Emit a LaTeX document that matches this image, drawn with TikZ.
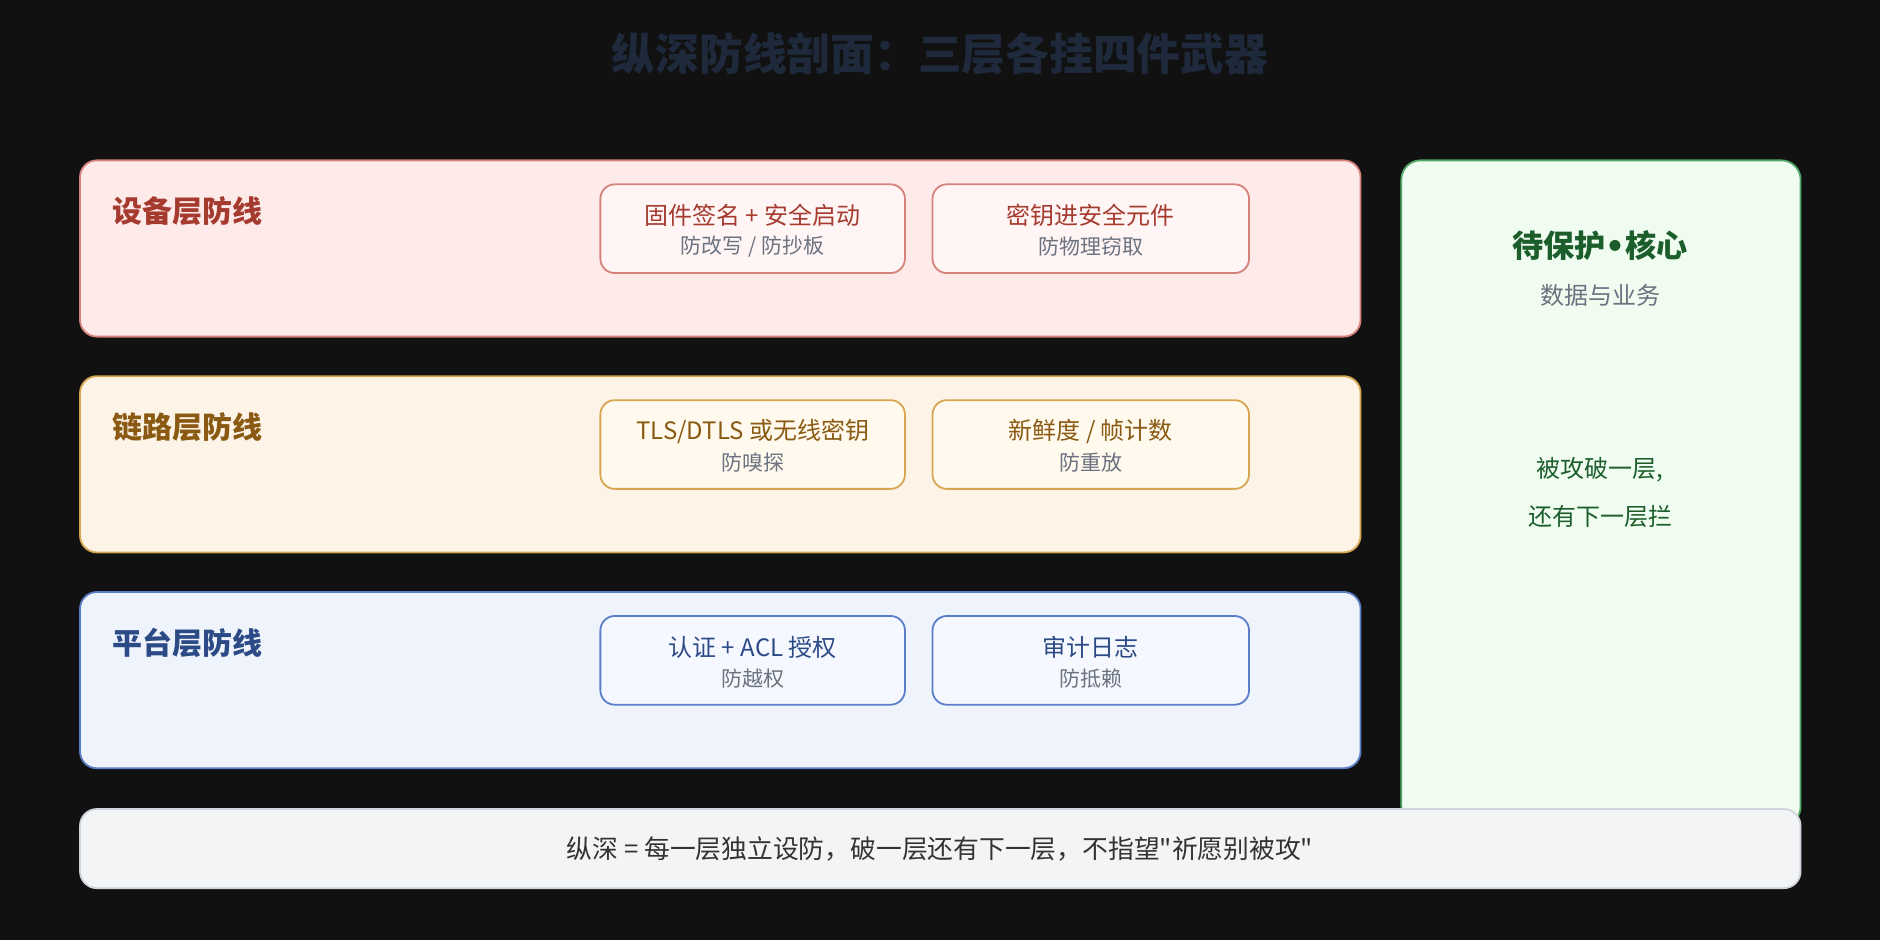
\documentclass[tikz,border=0pt]{standalone}
\usepackage{fontspec}
\setmainfont{Noto Sans CJK SC}
\newfontfamily\cjkplain{Noto Sans CJK SC}
\newfontfamily\bulletfont{DejaVu Sans}
\definecolor{bg}{HTML}{111111}
\definecolor{titlec}{HTML}{1E293B}
\definecolor{subgray}{HTML}{6B7280}
\definecolor{devfill}{HTML}{FFEAEA}
\definecolor{devline}{HTML}{D4827A}
\definecolor{devtext}{HTML}{A53A2F}
\definecolor{devwfill}{HTML}{FFF5F5}
\definecolor{linkfill}{HTML}{FDF3E7}
\definecolor{linkline}{HTML}{D6A650}
\definecolor{linktext}{HTML}{8A5A12}
\definecolor{linkwfill}{HTML}{FFF9EE}
\definecolor{platfill}{HTML}{EFF4FC}
\definecolor{platline}{HTML}{5A7EC8}
\definecolor{plattext}{HTML}{2B4A86}
\definecolor{platwfill}{HTML}{F5F8FF}
\definecolor{corefill}{HTML}{F0FCEF}
\definecolor{coreline}{HTML}{4FA866}
\definecolor{coretext}{HTML}{1B5E2C}
\definecolor{botfill}{HTML}{F3F4F6}
\definecolor{botline}{HTML}{CFD4DC}
\definecolor{bottext}{HTML}{333333}
\begin{document}
\begin{tikzpicture}[x=1pt,y=-1pt,
  layerbox/.style={draw=#1line, fill=#1fill, line width=1.5pt, rounded corners=14pt, anchor=north west, minimum width=1068pt, minimum height=147pt, inner sep=0pt},
  weapbox/.style={draw=#1line, fill=#1wfill, line width=1.5pt, rounded corners=12pt, anchor=north west, minimum height=74pt, inner sep=0pt},
  layertitle/.style={font=\fontsize{25}{29}\selectfont\bfseries, text=#1text, anchor=west, inner sep=0pt},
  wmain/.style={font=\fontsize{20}{24}\selectfont, text=#1text, inner sep=0pt},
  wsub/.style={font=\fontsize{17.5}{21}\selectfont, text=subgray, inner sep=0pt},
  txt/.style={inner sep=0pt}
]
\fill[bg] (0,0) rectangle (1568,784);
\useasboundingbox (0,0) rectangle (1568,784);

\node[txt, font=\fontsize{36.5}{40}\selectfont\bfseries, text=titlec] (title) at (784,45) {纵深防线剖面：三层各挂四件武器};

% core box (behind bottom bar)
\node[draw=coreline, fill=corefill, line width=1.5pt, rounded corners=16pt, anchor=north west, minimum width=333pt, minimum height=555pt, inner sep=0pt] (core) at (1168,133) {};
\node[txt, font=\fontsize{26}{30}\selectfont\bfseries, text=coretext] (coret) at (1334.5,205) {待保护{\bulletfont\bfseries •}核心};
\node[txt, font=\fontsize{20}{24}\selectfont, text=subgray] (cores) at (1334.5,246) {数据与业务};
\node[txt, font=\fontsize{20}{24}\selectfont, text=coretext] (corel1) at (1334.5,392) {被攻破一层,};
\node[txt, font=\fontsize{20}{24}\selectfont, text=coretext] (corel2) at (1334.5,431) {还有下一层拦};

% device layer
\node[layerbox=dev] (dev) at (66,133) {};
\node[layertitle=dev] (devt) at (94,176) {设备层防线};
\node[weapbox=dev, minimum width=254pt] (dw1) at (500,153) {};
\node[wmain=dev] (dw1a) at ([yshift=11pt]dw1.center) {固件签名 + 安全启动};
\node[wsub] (dw1b) at ([yshift=-15pt]dw1.center) {防改写 / 防抄板};
\node[weapbox=dev, minimum width=264pt] (dw2) at (777,153) {};
\node[wmain=dev] (dw2a) at ([yshift=11pt]dw2.center) {密钥进安全元件};
\node[wsub] (dw2b) at ([yshift=-15pt]dw2.center) {防物理窃取};

% link layer
\node[layerbox=link] (link) at (66,313) {};
\node[layertitle=link] (linkt) at (94,356) {链路层防线};
\node[weapbox=link, minimum width=254pt] (lw1) at (500,333) {};
\node[wmain=link] (lw1a) at ([yshift=11pt]lw1.center) {TLS/DTLS 或无线密钥};
\node[wsub] (lw1b) at ([yshift=-15pt]lw1.center) {防嗅探};
\node[weapbox=link, minimum width=264pt] (lw2) at (777,333) {};
\node[wmain=link] (lw2a) at ([yshift=11pt]lw2.center) {新鲜度 / 帧计数};
\node[wsub] (lw2b) at ([yshift=-15pt]lw2.center) {防重放};

% platform layer
\node[layerbox=plat] (plat) at (66,493) {};
\node[layertitle=plat] (platt) at (94,536) {平台层防线};
\node[weapbox=plat, minimum width=254pt] (pw1) at (500,513) {};
\node[wmain=plat] (pw1a) at ([yshift=11pt]pw1.center) {认证 + ACL 授权};
\node[wsub] (pw1b) at ([yshift=-15pt]pw1.center) {防越权};
\node[weapbox=plat, minimum width=264pt] (pw2) at (777,513) {};
\node[wmain=plat] (pw2a) at ([yshift=11pt]pw2.center) {审计日志};
\node[wsub] (pw2b) at ([yshift=-15pt]pw2.center) {防抵赖};

% bottom bar
\node[draw=botline, fill=botfill, line width=1.5pt, rounded corners=14pt, anchor=north west, minimum width=1435pt, minimum height=66pt, inner sep=0pt] (bot) at (66,674) {};
\node[txt, font=\cjkplain\fontsize{21.5}{25}\selectfont, text=bottext] (bott) at (784,708) {纵深 = 每一层独立设防，破一层还有下一层，不指望"祈愿别被攻"};
\end{tikzpicture}
\end{document}
